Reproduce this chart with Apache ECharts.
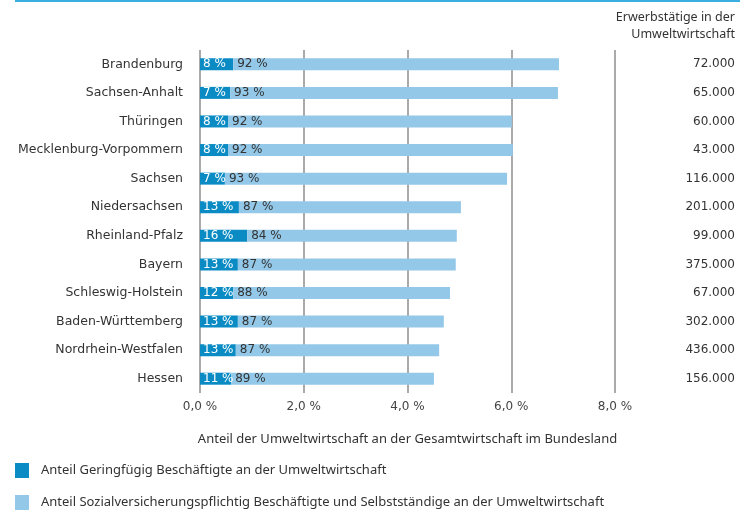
<!DOCTYPE html>
<html>
<head>
<meta charset="utf-8">
<script src="https://cdn.jsdelivr.net/npm/echarts@6/dist/echarts.min.js"></script>
<style>
html, body { margin: 0; padding: 0; background: #fff; }
#chart { width: 740px; height: 513px; }
</style>
</head>
<body>
<div id="chart"></div>
<script>
// Bundeslaender, von oben nach unten
var laender = ['Brandenburg', 'Sachsen-Anhalt', 'Thüringen', 'Mecklenburg-Vorpommern', 'Sachsen',
  'Niedersachsen', 'Rheinland-Pfalz', 'Bayern', 'Schleswig-Holstein', 'Baden-Württemberg',
  'Nordrhein-Westfalen', 'Hessen'];
// Anteil an der Gesamtwirtschaft in %, aufgeteilt
var geringfuegig = [0.64, 0.58, 0.54, 0.54, 0.48, 0.75, 0.91, 0.73, 0.64, 0.73, 0.69, 0.60];
var sozial = [6.28, 6.32, 5.47, 5.49, 5.44, 4.28, 4.04, 4.20, 4.18, 3.97, 3.92, 3.91];
// Beschriftungen in den Balken
var anteilGering = [8, 7, 8, 8, 7, 13, 16, 13, 12, 13, 13, 11];
var anteilSozial = [92, 93, 92, 92, 93, 87, 84, 87, 88, 87, 87, 89];
// Erwerbstaetige in der Umweltwirtschaft
var erwerbstaetige = ['72.000', '65.000', '60.000', '43.000', '116.000', '201.000', '99.000',
  '375.000', '67.000', '302.000', '436.000', '156.000'];

var nameGering = 'Anteil Geringfügig Beschäftigte an der Umweltwirtschaft';
var nameSozial = 'Anteil Sozialversicherungspflichtig Beschäftigte und Selbstständige an der Umweltwirtschaft';

var chart = echarts.init(document.getElementById('chart'));
chart.setOption({
  animation: false,
  textStyle: { fontFamily: 'DejaVu Sans' },
  graphic: [{
    type: 'rect',
    shape: { x: 15, y: 0, width: 725, height: 2 },
    style: { fill: '#3aaee0' }
  }, {
    type: 'text',
    x: 735,
    y: 9,
    style: {
      text: 'Erwerbstätige in der\nUmweltwirtschaft',
      align: 'right',
      verticalAlign: 'top',
      font: '12.5px "Noto Sans"',
      lineHeight: 17,
      fill: '#333'
    }
  }],
  legend: {
    orient: 'vertical',
    left: 15,
    top: 463,
    padding: 0,
    itemWidth: 14,
    itemHeight: 15,
    itemGap: 17,
    icon: 'rect',
    data: [nameGering, nameSozial],
    textStyle: { fontFamily: 'Noto Sans', fontSize: 13, color: '#333', padding: [0, 0, 0, 7] }
  },
  grid: { left: 200, right: 125, top: 50, bottom: 120 },
  xAxis: {
    type: 'value',
    min: 0,
    max: 8,
    interval: 2,
    name: 'Anteil der Umweltwirtschaft an der Gesamtwirtschaft im Bundesland',
    nameLocation: 'middle',
    nameGap: 40,
    nameTextStyle: { fontFamily: 'Noto Sans', fontSize: 13, color: '#333' },
    axisLine: { show: false },
    axisTick: { show: false },
    axisLabel: {
      margin: 8,
      color: '#444',
      fontSize: 12,
      formatter: function (v) { return v.toFixed(1).replace('.', ',') + ' %'; }
    },
    splitLine: { show: true, lineStyle: { color: '#aaa', width: 2 } }
  },
  yAxis: [{
    type: 'category',
    data: laender,
    inverse: true,
    axisLine: { show: false },
    axisTick: { show: false },
    axisLabel: { margin: 17, color: '#333', fontSize: 12.5 }
  }, {
    type: 'category',
    data: erwerbstaetige,
    inverse: true,
    position: 'right',
    axisLine: { show: false },
    axisTick: { show: false },
    axisLabel: { margin: 120, align: 'right', color: '#333', fontSize: 12 }
  }],
  series: [{
    name: nameGering,
    type: 'bar',
    stack: 'anteil',
    barWidth: 12,
    data: geringfuegig,
    itemStyle: { color: '#0a8bc4' },
    label: {
      show: true,
      position: 'insideLeft',
      distance: 3,
      color: '#fff',
      fontSize: 12,
      formatter: function (p) { return anteilGering[p.dataIndex] + ' %'; }
    }
  }, {
    name: nameSozial,
    type: 'bar',
    stack: 'anteil',
    barWidth: 12,
    data: sozial,
    itemStyle: { color: '#93c8e8' },
    label: {
      show: true,
      position: 'insideLeft',
      distance: 4,
      color: '#333',
      fontSize: 12,
      formatter: function (p) { return anteilSozial[p.dataIndex] + ' %'; }
    }
  }]
});
</script>
</body>
</html>
